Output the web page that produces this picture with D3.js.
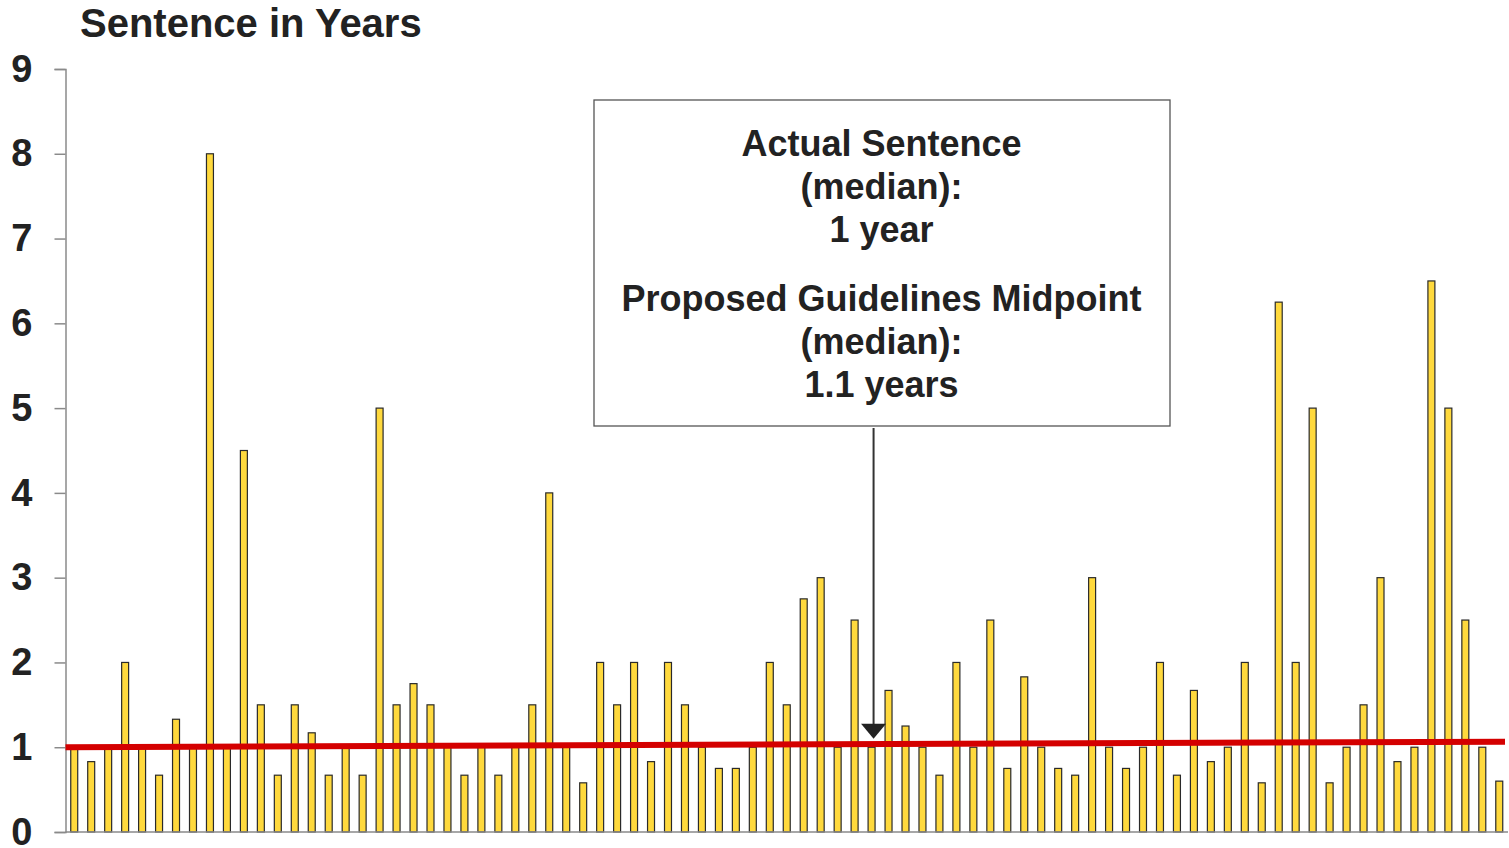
<!DOCTYPE html>
<html>
<head>
<meta charset="utf-8">
<script src="https://cdn.jsdelivr.net/npm/d3@7"></script>
<style>
  html, body { margin: 0; padding: 0; background: #fff; }
  svg { display: block; font-family: "Liberation Sans", Arial, sans-serif; }
</style>
</head>
<body>
<svg id="chart" width="1509" height="848"></svg>
<script>
// ---- data ----
const sentences = [
  1, 0.83, 1, 2, 1, 0.67, 1.33, 1, 8, 1,
  4.5, 1.5, 0.67, 1.5, 1.17, 0.67, 1, 0.67, 5, 1.5,
  1.75, 1.5, 1, 0.67, 1, 0.67, 1, 1.5, 4, 1,
  0.58, 2, 1.5, 2, 0.83, 2, 1.5, 1, 0.75, 0.75,
  1, 2, 1.5, 2.75, 3, 1, 2.5, 1, 1.67, 1.25,
  1, 0.67, 2, 1, 2.5, 0.75, 1.83, 1, 0.75, 0.67,
  3, 1, 0.75, 1, 2, 0.67, 1.67, 0.83, 1, 2,
  0.58, 6.25, 2, 5, 0.58, 1, 1.5, 3, 0.83, 1,
  6.5, 5, 2.5, 1, 0.6
];
const cases = sentences.map((d, i) => i);
const yTicks = [0, 1, 2, 3, 4, 5, 6, 7, 8, 9];
const trendValues = [1.0, 1.065];      // red median line, left → right
const arrowCase = 47;
const arrowValue = 1.1;
const titleText = "Sentence in Years";
const noteLines1 = ["Actual Sentence", "(median):", "1 year"];
const noteLines2 = ["Proposed Guidelines Midpoint", "(median):", "1.1 years"];

// ---- layout ----
const svg = d3.select("#chart");
const mLeft = 65.5, mRight = 1508, mTop = 69, mBottom = 832;
const ink = "#222222";

const x = d3.scaleBand().domain(cases).range([mLeft, mRight]).paddingInner(0.53).paddingOuter(0.28);
const y = d3.scaleLinear().domain([0, 9]).range([mBottom, mTop]);

// title
svg.append("text").attr("x", 80).attr("y", 37)
  .attr("font-size", 40).attr("font-weight", "bold").attr("fill", ink)
  .text(titleText);

// bars
svg.append("g").selectAll("rect").data(sentences).join("rect")
  .attr("x", (d, i) => x(i) + 0.5)
  .attr("y", d => y(d))
  .attr("width", x.bandwidth() - 1)
  .attr("height", d => y(0) - y(d))
  .attr("fill", "#FFD93D")
  .attr("stroke", "#2a2a2a")
  .attr("stroke-width", 1.2);

// y axis
const yAxis = d3.axisLeft(y).tickValues(yTicks).tickSize(11).tickPadding(22).tickFormat(d3.format("d"));
const gy = svg.append("g").attr("transform", `translate(${mLeft},0)`).call(yAxis);
gy.select(".domain").attr("stroke", "#8a8a8a").attr("stroke-width", 1.5);
gy.selectAll(".tick line").attr("stroke", "#8a8a8a").attr("stroke-width", 1.5);
gy.selectAll(".tick text")
  .attr("font-size", 38).attr("font-weight", "bold").attr("fill", ink)
  .attr("font-family", "'Liberation Sans', Arial, sans-serif");

// baseline
svg.append("line")
  .attr("x1", mLeft).attr("x2", mRight)
  .attr("y1", y(0)).attr("y2", y(0))
  .attr("stroke", "#8a8a8a").attr("stroke-width", 1.5);

// red median line
svg.append("line")
  .attr("x1", mLeft).attr("x2", mRight - 3)
  .attr("y1", y(trendValues[0])).attr("y2", y(trendValues[1]))
  .attr("stroke", "#D40000").attr("stroke-width", 6);

// annotation box
const boxX = 594, boxY = 100, boxW = 576, boxH = 326;
svg.append("rect")
  .attr("x", boxX).attr("y", boxY).attr("width", boxW).attr("height", boxH)
  .attr("fill", "#fff").attr("stroke", "#555").attr("stroke-width", 1.3);

const cx = boxX + boxW / 2 - 0.5;
const note = svg.append("g").attr("font-size", 36).attr("font-weight", "bold")
  .attr("fill", ink).attr("text-anchor", "middle");
noteLines1.forEach((t, i) => note.append("text").attr("x", cx).attr("y", 156 + i * 43).text(t));
noteLines2.forEach((t, i) => note.append("text").attr("x", cx).attr("y", 311 + i * 43).text(t));

// arrow
const ax = x(arrowCase) + x.bandwidth() / 2 + 2;
const tipY = y(arrowValue);
svg.append("line")
  .attr("x1", ax).attr("x2", ax)
  .attr("y1", boxY + boxH + 2).attr("y2", tipY - 12)
  .attr("stroke", "#333").attr("stroke-width", 2);
svg.append("path")
  .attr("d", `M${ax - 12.5},${tipY - 15} L${ax + 12.5},${tipY - 15} L${ax},${tipY} Z`)
  .attr("fill", "#222");
</script>
</body>
</html>
